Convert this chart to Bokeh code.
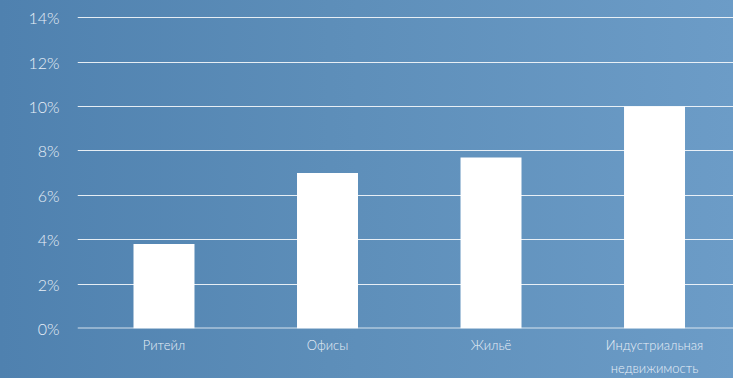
from bokeh.plotting import figure
from bokeh.models import Range1d, FixedTicker, PrintfTickFormatter, Span
from bokeh.embed import file_html
from bokeh.resources import INLINE

categories = ["Ритейл", "Офисы", "Жильё", "Индустриальная\nнедвижимость"]
values = [3.8, 7.0, 7.7, 10.0]
y_ticks = [0, 2, 4, 6, 8, 10, 12, 14]

xs = list(range(len(categories)))

p = figure(width=733, height=378, output_backend="svg", toolbar_location=None,
           x_range=Range1d(-0.529, 3.483), y_range=Range1d(0, 14.05),
           min_border_left=77, min_border_right=0, min_border_top=16, min_border_bottom=49)
p.styles = {"position": "absolute", "left": "0px", "top": "0px",
            "background": "linear-gradient(90deg, #4f81af 0%, #5d8eb9 45%, #6c9cc7 100%)"}
p.background_fill_color = None
p.border_fill_color = None
p.outline_line_color = None

p.vbar(x=xs, top=values, width=0.373, fill_color="white", line_color=None)

p.add_layout(Span(location=0, dimension="width", line_color="white", line_alpha=0.75, line_width=2))

p.xgrid.grid_line_color = None
p.ygrid.grid_line_color = "white"
p.ygrid.grid_line_alpha = 0.85
p.ygrid.grid_line_width = 1
p.ygrid.ticker = FixedTicker(ticks=y_ticks)

p.yaxis.ticker = FixedTicker(ticks=y_ticks)
p.yaxis.formatter = PrintfTickFormatter(format="%d%%")
p.xaxis.ticker = FixedTicker(ticks=xs)
p.xaxis.major_label_overrides = {i: c for i, c in zip(xs, categories)}

for ax in (p.xaxis, p.yaxis):
    ax.axis_line_color = None
    ax.major_tick_line_color = None
    ax.minor_tick_line_color = None
    ax.major_tick_in = 0
    ax.major_tick_out = 0
    ax.major_label_text_color = "#e8eff7"
    ax.major_label_text_font = "Lato Light"

p.yaxis.major_label_text_font_size = "16px"
p.yaxis.major_label_standoff = 18
p.xaxis.major_label_text_font_size = "13px"
p.xaxis.major_label_standoff = 8
p.xaxis.major_label_text_line_height = 1.45

open("out.html", "w").write(file_html(p, INLINE))
